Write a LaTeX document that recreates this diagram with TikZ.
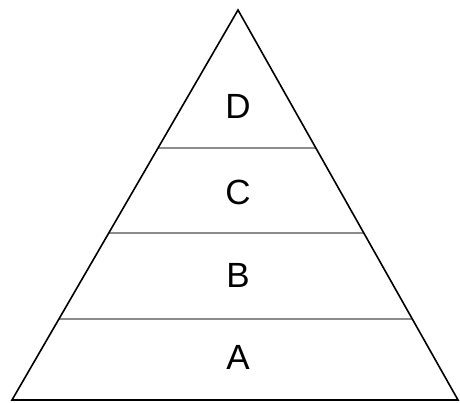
\documentclass[tikz,border=0pt]{standalone}
\usepackage{fontspec}
\setmainfont{Liberation Sans}
\usetikzlibrary{calc}
\begin{document}
\begin{tikzpicture}[x=1pt,y=-1pt,
  edge/.style={line width=1.6pt,black,line join=miter},
  band/.style={line width=1.6pt,color=black!45},
  lbl/.style={font=\fontsize{35}{35}\selectfont,inner sep=0pt,anchor=center}]
\useasboundingbox (0,0) rectangle (460,403);
\coordinate (top) at (238,10);
\coordinate (bl) at (12,400);
\coordinate (br) at (458,400);
\coordinate (l1) at ($(bl)!0.2077!(top)$);
\coordinate (r1) at ($(br)!0.2077!(top)$);
\coordinate (l2) at ($(bl)!0.4282!(top)$);
\coordinate (r2) at ($(br)!0.4282!(top)$);
\coordinate (l3) at ($(bl)!0.6462!(top)$);
\coordinate (r3) at ($(br)!0.6462!(top)$);
\draw[band] (l1) -- (r1);
\draw[band] (l2) -- (r2);
\draw[band] (l3) -- (r3);
\draw[edge] (bl) -- (top) -- (br) -- cycle;
\node[lbl] (A) at (238,357) {A};
\node[lbl] (B) at (238,275) {B};
\node[lbl] (C) at (238,192) {C};
\node[lbl] (D) at (238,106) {D};
\end{tikzpicture}
\end{document}
